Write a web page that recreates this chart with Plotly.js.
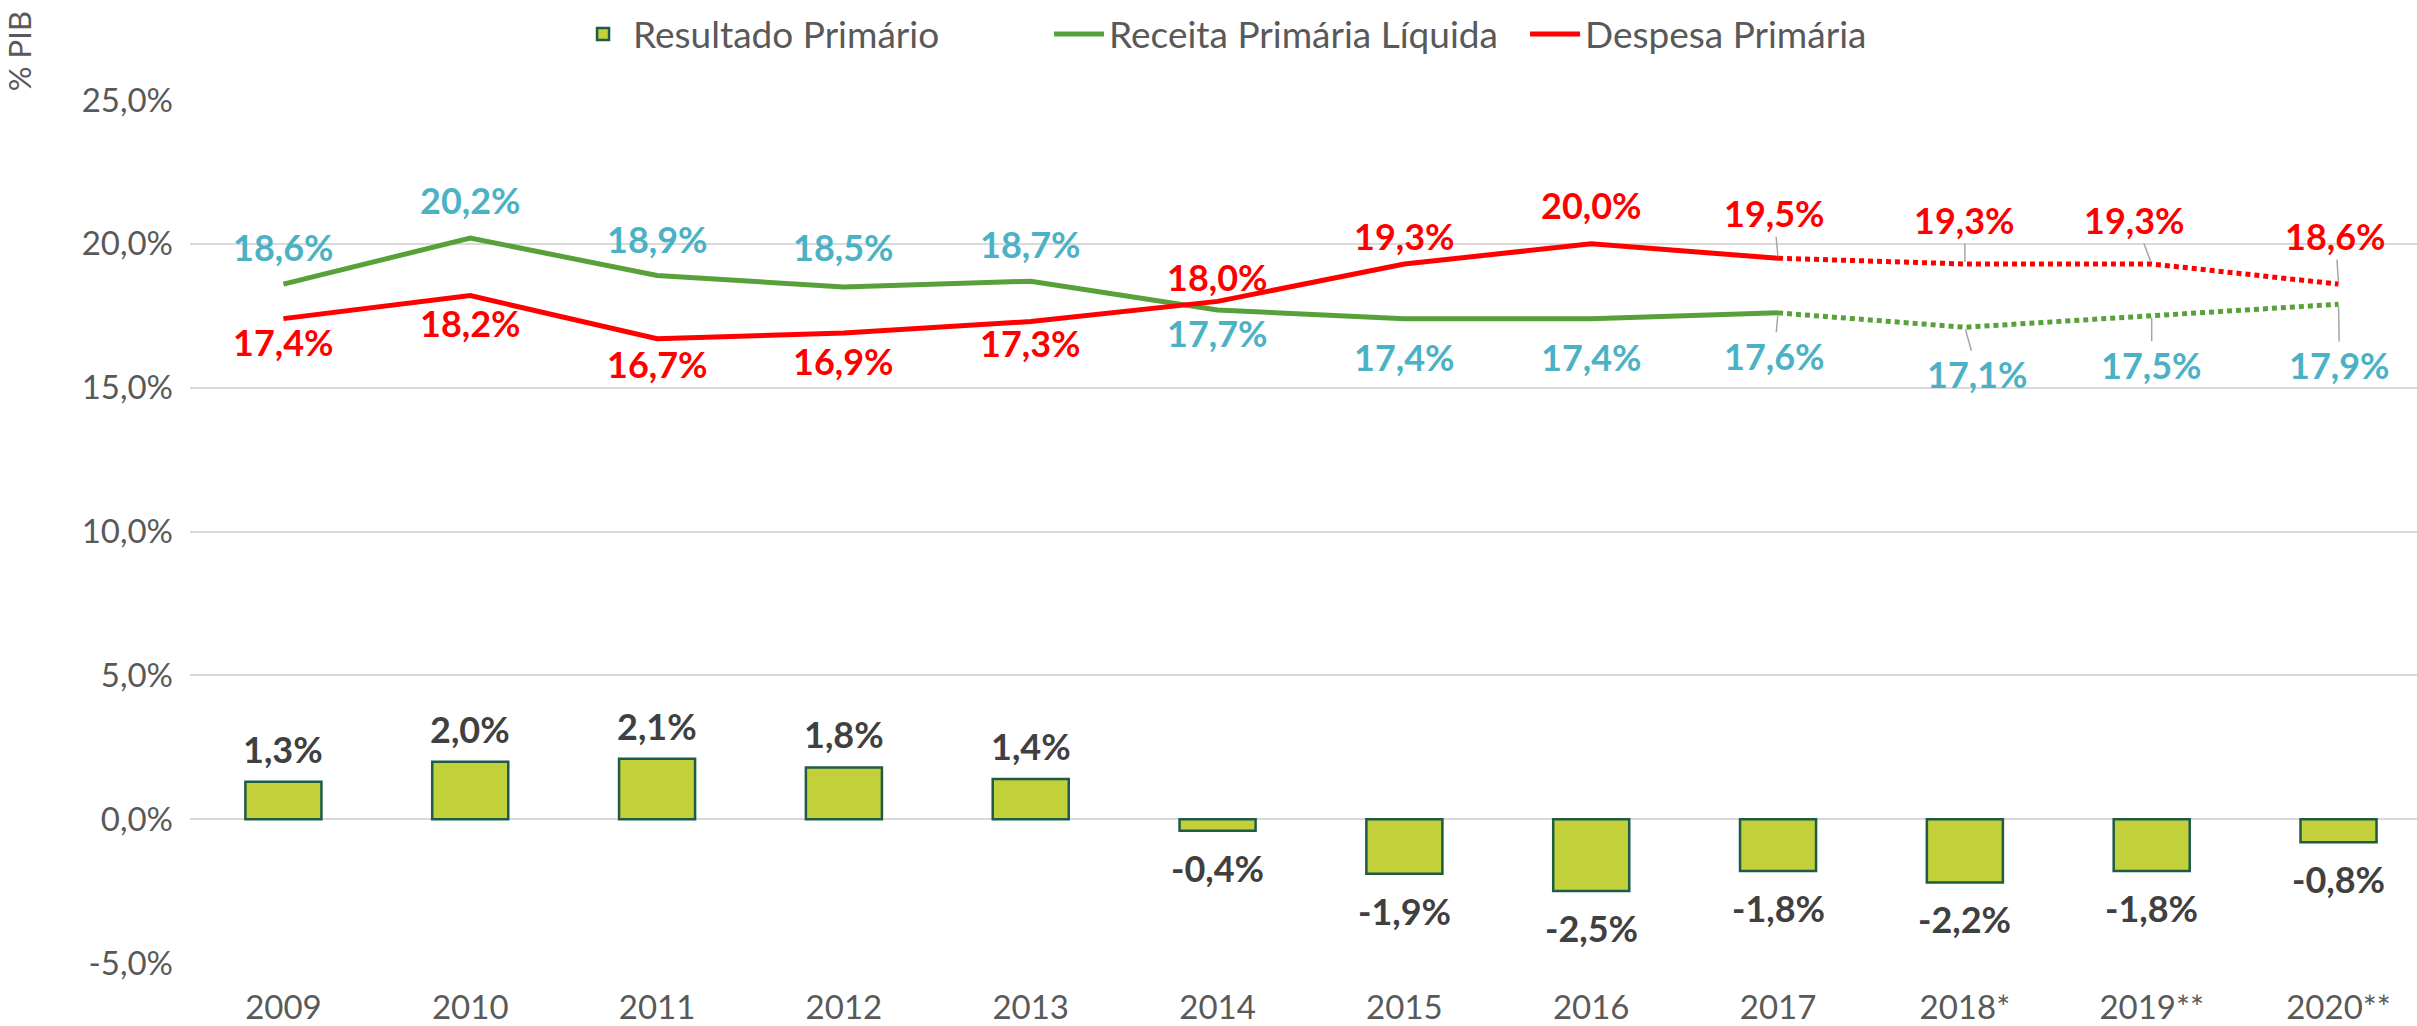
<!DOCTYPE html>
<html>
<head>
<meta charset="utf-8">
<script src="https://cdn.plot.ly/plotly-3.0.1.min.js"></script>
<style>html,body{margin:0;padding:0;background:#fff;}#chart{width:2417px;height:1026px;}</style>
</head>
<body>
<div id="chart"></div>
<script>
// ---- Data ----
const categories = ["2009","2010","2011","2012","2013","2014","2015","2016","2017","2018*","2019**","2020**"];
const resultadoPrimario = [1.3, 2.0, 2.1, 1.8, 1.4, -0.4, -1.9, -2.5, -1.8, -2.2, -1.8, -0.8];
const receitaPrimaria = [18.6, 20.2, 18.9, 18.5, 18.7, 17.7, 17.4, 17.4, 17.6, 17.1, 17.5, 17.9];
const despesaPrimaria = [17.4, 18.2, 16.7, 16.9, 17.3, 18.0, 19.3, 20.0, 19.5, 19.3, 19.3, 18.6];
const lastActualIndex = 8; // 2017: solid up to here, dotted afterwards
const yTicks = [-5, 0, 5, 10, 15, 20, 25];

// ---- Label placement (pixels) ----
const receitaLabelDx = [0,0,0,0,0,0,0,0,-4,13,0,1];
const receitaLabelDy = [-37,-38,-36,-40,-37,23,38,38,43,47,49,61];
const despesaLabelDx = [0,0,0,0,0,0,0,0,-4,0,-17,-3];
const despesaLabelDy = [23,27,25,28,21,-24,-28,-39,-45,-44,-44,-48];

const FONT = "Lato, 'Open Sans', sans-serif";
const GREEN = '#58A03A', RED = '#FF0000', TEAL = '#4BB2C5';
const fmt = v => v.toFixed(1).replace('.', ',') + '%';

const solidX = categories.slice(0, lastActualIndex + 1);
const dotX = categories.slice(lastActualIndex);

const traces = [
  {
    type: 'bar', name: 'Resultado Primário', x: categories, y: resultadoPrimario,
    width: 0.407,
    marker: {color: '#C2D13A', line: {color: '#1E5B48', width: 2.5}},
    hoverinfo: 'skip'
  },
  {
    type: 'scatter', mode: 'lines', name: 'Receita Primária Líquida',
    x: solidX, y: receitaPrimaria.slice(0, lastActualIndex + 1),
    line: {color: GREEN, width: 5}
  },
  {
    type: 'scatter', mode: 'lines', name: 'Despesa Primária',
    x: solidX, y: despesaPrimaria.slice(0, lastActualIndex + 1),
    line: {color: RED, width: 5}
  },
  {
    type: 'scatter', mode: 'lines', showlegend: false,
    x: dotX, y: receitaPrimaria.slice(lastActualIndex),
    line: {color: GREEN, width: 5, dash: '5px,4px'}
  },
  {
    type: 'scatter', mode: 'lines', showlegend: false,
    x: dotX, y: despesaPrimaria.slice(lastActualIndex),
    line: {color: RED, width: 5, dash: '5px,4px'}
  }
];

const annotations = [];
function lineLabel(i, vals, dx, dy, color) {
  const leader = i >= lastActualIndex;
  annotations.push({
    x: i, y: vals[i], xref: 'x', yref: 'y',
    text: fmt(vals[i]), showarrow: true, arrowhead: 0,
    arrowwidth: leader ? 1.5 : 0.1,
    arrowcolor: leader ? '#A6A6A6' : 'rgba(0,0,0,0)',
    standoff: 2,
    ax: dx[i], ay: dy[i],
    font: {family: FONT, size: 36, color: color, weight: 'bold'}
  });
}
categories.forEach((c, i) => {
  lineLabel(i, receitaPrimaria, receitaLabelDx, receitaLabelDy, TEAL);
  lineLabel(i, despesaPrimaria, despesaLabelDx, despesaLabelDy, RED);
  const v = resultadoPrimario[i];
  annotations.push({
    x: i, y: v, xref: 'x', yref: 'y', text: fmt(v),
    showarrow: true, arrowcolor: 'rgba(0,0,0,0)', arrowwidth: 0.1,
    ax: 0, ay: v >= 0 ? -33 : 37,
    font: {family: FONT, size: 36, color: '#404040', weight: 'bold'}
  });
});
annotations.push({
  text: '% PIB', xref: 'paper', yref: 'paper', x: -0.077, y: 1.056,
  xanchor: 'center', yanchor: 'middle', textangle: -90, showarrow: false,
  font: {family: FONT, size: 31, color: '#595959'}
});

const layout = {
  width: 2417, height: 1026,
  margin: {l: 190, r: 0, t: 100, b: 63},
  paper_bgcolor: '#ffffff', plot_bgcolor: '#ffffff',
  separators: ',.',
  font: {family: FONT, color: '#595959'},
  showlegend: true,
  legend: {
    orientation: 'h', x: 0.172, xanchor: 'left', y: 1.076, yanchor: 'middle',
    font: {family: FONT, size: 37, color: '#595959'},
    traceorder: 'normal', itemwidth: 50,
    entrywidth: 411, entrywidthmode: 'pixels'
  },
  xaxis: {
    type: 'category', range: [-0.5, 11.42],
    showgrid: false, zeroline: false, showline: false, ticks: '',
    tickfont: {family: FONT, size: 33, color: '#595959'},
    ticklabelstandoff: 22
  },
  yaxis: {
    range: [-5, 25], tickvals: yTicks, ticktext: yTicks.map(fmt),
    showgrid: true, gridcolor: '#D9D9D9', gridwidth: 2,
    zeroline: false, showline: false, ticks: '',
    tickfont: {family: FONT, size: 33, color: '#595959'},
    ticklabelstandoff: 16
  },
  annotations: annotations
};

Plotly.newPlot('chart', traces, layout, {staticPlot: true});
</script>
</body>
</html>
